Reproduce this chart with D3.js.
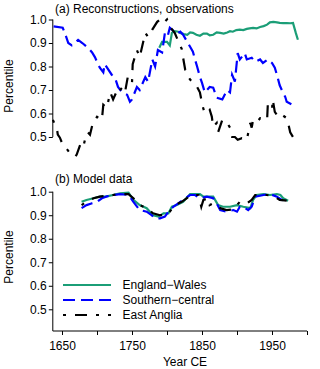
<!doctype html>
<html>
<head>
<style>
  body { margin: 0; background: #fff; }
  svg { font-family: "Liberation Sans", Arial, sans-serif; }
  .axis text { font-size: 12px; fill: #000; }
  .axis line { stroke: #000; stroke-width: 1; }
  .axis .domain { display: none; }
</style>
<script src="https://d3js.org/d3.v7.min.js"></script>
</head>
<body>
<svg width="320" height="369"></svg>
<script>
// (a) reconstructions, observations
var yearsEWa = [1789,1793,1800,1804,1807,1811,1816,1819,1824,1829,1833,1837,1842,1847,1852,1857,1861,1866,1871,1876,1881,1886,1890,1894,1899,1904,1909,1914,1918,1923,1928,1933,1938,1943,1947,1952,1957,1961,1966,1971,1976,1980,1984,1987];
var ewA      = [.88,.905,.905,.89,.943,.95,.948,.943,.938,.935,.945,.943,.935,.931,.94,.94,.933,.935,.945,.943,.94,.945,.95,.948,.955,.957,.955,.96,.962,.964,.962,.968,.972,.978,.988,.99,.988,.986,.985,.985,.984,.985,.943,.914];

var yearsSCa = [1638,1651,1654,1659,1664,1673,1679,1687,1693,1697,1700,1704,1709,1711,1721,1726,1730,1736,1743,1747,1750,1757,1761,1769,1773,1779,1783,1787,1793,1797,1801,1804,1808,1814,1819,1823,1833,1837,1840,1843,1847,1850,1854,1861,1866,1871,1879,1886,1890,1893,1897,1901,1904,1911,1914,1921,1926,1933,1937,1944,1950,1954,1957,1961,1964,1969,1971,1979,1983];
var scA      = [.971,.965,.943,.90,.89,.913,.90,.88,.86,.84,.82,.795,.775,.81,.765,.75,.713,.69,.68,.65,.66,.713,.70,.755,.735,.83,.80,.87,.86,.943,.93,.965,.955,.94,.948,.935,.884,.863,.83,.80,.756,.73,.69,.713,.71,.667,.66,.70,.69,.765,.736,.857,.83,.857,.83,.837,.82,.83,.815,.83,.815,.795,.765,.72,.70,.67,.65,.637,.624];

var yearsEAa = [1637,1643,1644,1647,1650,1654,1661,1669,1671,1676,1680,1683,1687,1690,1694,1700,1707,1709,1714,1719,1723,1729,1730,1736,1740,1744,1750,1751,1757,1761,1769,1773,1779,1786,1790,1795,1800,1804,1811,1821,1824,1826,1830,1837,1843,1847,1851,1854,1861,1864,1866,1871,1873,1879,1886,1890,1893,1897,1901,1907,1914,1919,1921,1923,1929,1933,1943,1944,1950,1951,1954,1959,1964,1971,1973,1976,1980];
var eaA      = [.573,.53,.51,.497,.475,.46,.433,.416,.425,.467,.454,.49,.52,.51,.56,.586,.573,.637,.624,.69,.66,.70,.69,.71,.69,.756,.73,.81,.87,.84,.943,.926,.957,.99,1.0,.985,1.0,.97,.943,.875,.82,.786,.756,.73,.713,.69,.63,.60,.616,.587,.544,.56,.52,.573,.56,.54,.50,.50,.488,.495,.488,.56,.54,.573,.565,.58,.573,.637,.616,.66,.607,.586,.595,.58,.56,.52,.50];

// (b) model data
var yearsEWb = [1678,1685,1695,1704,1714,1723,1733,1745,1752,1761,1771,1780,1788,1795,1802,1807,1814,1823,1833,1847,1852,1866,1873,1880,1890,1900,1909,1919,1923,1928,1938,1947,1957,1962,1966,1973];
var ewB      = [.957,.965,.972,.979,.98,.986,.993,.996,.965,.943,.93,.90,.894,.908,.908,.936,.943,.957,.99,.99,.979,.979,.943,.936,.936,.943,.936,.93,.965,.986,.99,.986,.99,.986,.972,.962];

var yearsSCb = [1678,1685,1692,1700,1707,1714,1723,1733,1745,1752,1761,1771,1778,1783,1790,1797,1802,1809,1816,1823,1833,1840,1847,1857,1866,1871,1876,1885,1895,1900,1904,1909,1916,1921,1926,1938,1947,1957,1964,1971];
var scB      = [.93,.943,.95,.957,.972,.98,.986,.99,.986,.957,.922,.915,.90,.887,.887,.894,.915,.936,.95,.965,.986,.986,.972,.979,.972,.95,.922,.915,.922,.915,.936,.936,.922,.936,.979,.986,.99,.979,.965,.957];

var yearsEAb = [1678,1685,1695,1704,1723,1733,1745,1752,1761,1771,1780,1790,1800,1804,1811,1821,1828,1835,1845,1849,1852,1859,1861,1866,1876,1885,1895,1900,1904,1914,1921,1926,1933,1942,1952,1961,1971];
var eaB      = [.943,.957,.972,.979,.986,.99,.99,.972,.943,.93,.908,.90,.90,.915,.943,.957,.972,.986,.986,.936,.965,.972,.943,.95,.93,.922,.925,.943,.957,.95,.965,.986,.986,.986,.982,.965,.962];

var yTicks = [0.5, 0.6, 0.7, 0.8, 0.9, 1.0];
var xTicks = [1650, 1700, 1750, 1800, 1850, 1900, 1950, 2000];
var xLabels = [1650, 1750, 1850, 1950];

var seriesNames = ["England\u2212Wales", "Southern\u2212central", "East Anglia"];

var svg = d3.select("svg");

var axisX = 52.8, axisY = 331;
var x = d3.scaleLinear().domain([1650, 2000]).range([62, 307]);
var yA = d3.scaleLinear().domain([0.5, 1.0]).range([137, 19.5]);
var yB = d3.scaleLinear().domain([0.5, 1.0]).range([309.3, 191.7]);

var styles = [
    { color: "#1b9e77", dash: null },
    { color: "#0000ff", dash: "12,6" },
    { color: "#000000", dash: "3,9,12,9" }
];

function zip(xs, vs) { return xs.map(function(d, i) { return [d, vs[i]]; }); }

function drawSeries(g, y, data, st) {
    var line = d3.line()
        .x(function(d) { return x(d[0]); })
        .y(function(d) { return y(d[1]); });
    g.append("path")
     .datum(data)
     .attr("d", line)
     .attr("fill", "none")
     .attr("stroke", st.color)
     .attr("stroke-width", 2.2)
     .attr("stroke-dasharray", st.dash);
}

function yAxis(y) {
    return d3.axisLeft(y).tickValues(yTicks).tickSize(4).tickSizeOuter(0).tickPadding(2)
             .tickFormat(d3.format(".1f"));
}

function vline(y1, y2) {
    svg.append("line").attr("x1", axisX).attr("x2", axisX)
       .attr("y1", y1).attr("y2", y2).attr("stroke", "#000");
}

// panel a
svg.append("g").attr("class", "axis")
   .attr("transform", "translate(" + axisX + ",0)")
   .call(yAxis(yA));
vline(yA(1.0), yA(0.5));
var gA = svg.append("g");
drawSeries(gA, yA, zip(yearsEWa, ewA), styles[0]);
drawSeries(gA, yA, zip(yearsSCa, scA), styles[1]);
drawSeries(gA, yA, zip(yearsEAa, eaA), styles[2]);

// panel b
svg.append("g").attr("class", "axis")
   .attr("transform", "translate(" + axisX + ",0)")
   .call(yAxis(yB));
vline(yB(1.0), axisY);
svg.append("g").attr("class", "axis")
   .attr("transform", "translate(0," + axisY + ")")
   .call(d3.axisBottom(x).tickValues(xTicks).tickSize(4).tickSizeOuter(0).tickPadding(6)
        .tickFormat(function(d) { return xLabels.indexOf(d) >= 0 ? d : ""; }));
svg.append("line").attr("x1", axisX).attr("x2", x(2000))
   .attr("y1", axisY).attr("y2", axisY).attr("stroke", "#000");
var gB = svg.append("g");
drawSeries(gB, yB, zip(yearsEWb, ewB), styles[0]);
drawSeries(gB, yB, zip(yearsSCb, scB), styles[1]);
drawSeries(gB, yB, zip(yearsEAb, eaB), styles[2]);

// labels
svg.append("text").attr("x", 55).attr("y", 12.5).attr("font-size", "12px").text("(a) Reconstructions, observations");
svg.append("text").attr("x", 55).attr("y", 183).attr("font-size", "12px").text("(b) Model data");
svg.append("text").attr("transform", "translate(13,86) rotate(-90)")
   .attr("text-anchor", "middle").attr("font-size", "12px").text("Percentile");
svg.append("text").attr("transform", "translate(13,257) rotate(-90)")
   .attr("text-anchor", "middle").attr("font-size", "12px").text("Percentile");
svg.append("text").attr("x", 185).attr("y", 366)
   .attr("text-anchor", "middle").attr("font-size", "12px").text("Year CE");

// legend
var legend = svg.append("g");
seriesNames.forEach(function(name, i) {
    var ly = 285 + i * 15;
    legend.append("line")
          .attr("x1", 63).attr("x2", 111).attr("y1", ly).attr("y2", ly)
          .attr("stroke", styles[i].color).attr("stroke-width", 2.2)
          .attr("stroke-dasharray", styles[i].dash);
    legend.append("text").attr("x", 122.5).attr("y", ly + 4.3)
          .attr("font-size", "12px").text(name);
});
</script>
</body>
</html>
